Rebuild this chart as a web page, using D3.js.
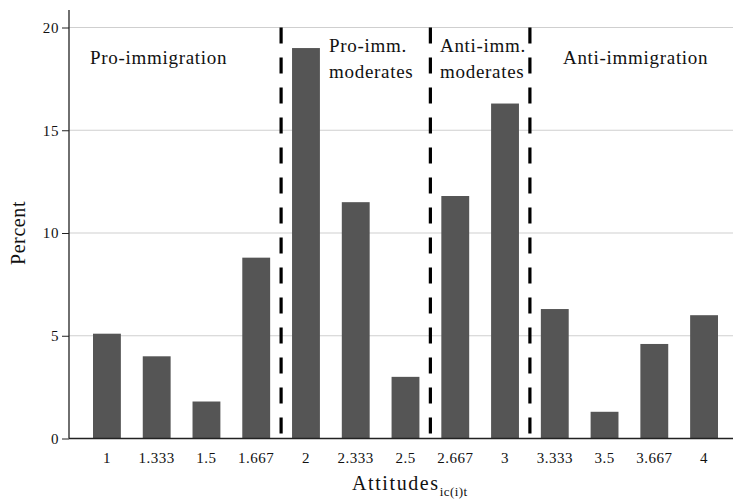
<!DOCTYPE html>
<html><head><meta charset="utf-8">
<script src="https://cdn.jsdelivr.net/npm/d3@7"></script>
<style>body{margin:0;background:#fff}svg{display:block}text{font-family:"Liberation Serif","DejaVu Serif",serif;fill:#111}</style>
</head><body><svg id="c" width="733" height="500"></svg>
<script>
const categories = ["1","1.333","1.5","1.667","2","2.333","2.5","2.667","3","3.333","3.5","3.667","4"];
const percents = [5.1,4.0,1.8,8.8,19.0,11.5,3.0,11.8,16.3,6.3,1.3,4.6,6.0];
const yTicks = [0,5,10,15,20];
const dividersAfter = ["1.667","2.5","3"];
const groupLabels = [
  {lines:["Pro-immigration"]},
  {lines:["Pro-imm.","moderates"]},
  {lines:["Anti-imm.","moderates"]},
  {lines:["Anti-immigration"]}
];

const svg = d3.select("#c");
const m = {l:69, t:10};
const W = 733;
const x = d3.scaleBand().domain(categories).range([93, 718]).paddingInner(0.44).paddingOuter(0);
const y = d3.scaleLinear().domain([0,20]).range([438.5, 27.5]);

// gridlines
svg.append("g").selectAll("line").data(yTicks.filter(d=>d>0)).join("line")
  .attr("x1", m.l).attr("x2", W).attr("y1", d=>y(d)).attr("y2", d=>y(d))
  .attr("stroke", "#cfcfcf").attr("stroke-width", 1);

// bars
svg.append("g").selectAll("rect").data(categories).join("rect")
  .attr("x", d=>x(d)).attr("width", x.bandwidth())
  .attr("y", (d,i)=>y(percents[i])).attr("height", (d,i)=>y(0)-y(percents[i]))
  .attr("fill", "#555555");

// axes
const yAxis = d3.axisLeft(y).tickValues(yTicks).tickSize(7).tickPadding(3).tickFormat(d3.format("d"));
const gy = svg.append("g").attr("transform", `translate(${m.l},0)`).call(yAxis);
gy.select(".domain").remove();
gy.selectAll("line").attr("stroke", "#222");
gy.selectAll("text").attr("font-size", 15).attr("font-family", "Liberation Serif").attr("fill","#111").attr("letter-spacing", 0.6);
svg.append("line").attr("x1", m.l).attr("x2", m.l).attr("y1", m.t).attr("y2", y(0)).attr("stroke", "#222").attr("stroke-width", 1.3);
svg.append("line").attr("x1", m.l).attr("x2", W).attr("y1", y(0)).attr("y2", y(0)).attr("stroke", "#222").attr("stroke-width", 1.3);

const xAxis = d3.axisBottom(x).tickSize(0).tickPadding(14);
const gx = svg.append("g").attr("transform", `translate(0,${y(0)})`).call(xAxis);
gx.select(".domain").remove();
gx.selectAll("text").attr("font-size", 15).attr("font-family", "Liberation Serif").attr("fill","#111").attr("letter-spacing", 0.5);

// divider dashed lines
const step = x.step();
const divX = c => x(c) + x.bandwidth() + (step - x.bandwidth())/2;
svg.append("g").selectAll("line").data(dividersAfter).join("line")
  .attr("x1", divX).attr("x2", divX).attr("y1", y(20)).attr("y2", y(0))
  .attr("stroke", "#000").attr("stroke-width", 3.2).attr("stroke-dasharray", "16,14");

// group labels
const labelX = [90, 329, 440, 563];
const labelY = [[64],[52,78],[52,78],[64]];
groupLabels.forEach((g,i)=>{
  const t = svg.append("text").attr("font-size", 19).attr("letter-spacing", 0.7);
  g.lines.forEach((ln,j)=>{
    t.append("tspan").attr("x", labelX[i]).attr("y", labelY[i][j]).text(ln);
  });
});

// axis titles
svg.append("text").attr("transform", `translate(25,${y(10)}) rotate(-90)`).attr("text-anchor","middle")
  .attr("font-size", 20).attr("letter-spacing", 0.6).text("Percent");
const xt = svg.append("text").attr("x", 352).attr("y", 490).attr("font-size", 20).attr("letter-spacing", 1.6);
xt.append("tspan").text("Attitudes");
xt.append("tspan").attr("font-size", 13).attr("letter-spacing", 0.4).attr("dy", 6).text("ic(i)t");
</script></body></html>
